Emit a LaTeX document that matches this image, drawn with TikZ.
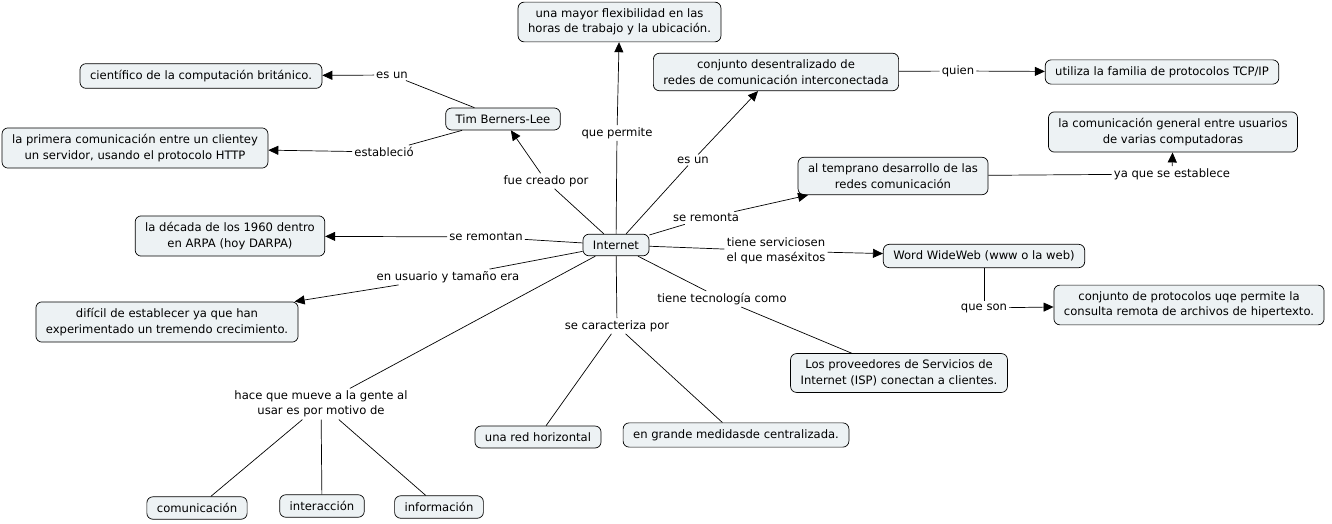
\documentclass[tikz,border=0pt]{standalone}
\usepackage{fontspec}
\setmainfont{DejaVu Sans}
\usetikzlibrary{arrows.meta}
\definecolor{cfill}{RGB}{237,242,244}
\tikzset{
  concept/.style={draw=black, line width=0.7pt, fill=cfill, rounded corners=6pt, align=center,
    inner xsep=10pt, inner ysep=6.5pt, font=\fontsize{11.6}{15.5}\selectfont},
  lbl/.style={align=center, inner sep=2pt, font=\fontsize{11.6}{15.5}\selectfont},
  conn/.style={line width=0.7pt},
  arr/.style={line width=0.7pt, -{Triangle[length=10pt,width=9pt]}},
}
\begin{document}
\begin{tikzpicture}[x=1pt,y=-1pt]
\useasboundingbox (0,0) rectangle (1332,524);
% concepts
\node[concept] (flex) at (619.5,22) {una mayor flexibilidad en las\\horas de trabajo y la ubicación.};
\node[concept] (conj) at (776,72) {conjunto desentralizado de\\redes de comunicación interconectada};
\node[concept] (tcp) at (1162,72) {utiliza la familia de protocolos TCP/IP};
\node[concept] (cient) at (201,76) {científico de la computación británico.};
\node[concept] (tim) at (503,119) {Tim Berners-Lee};
\node[concept] (prim) at (135,148) {la primera comunicación entre un clientey\\un servidor, usando el protocolo HTTP};
\node[concept] (gen) at (1173,132) {la comunicación general entre usuarios\\de varias computadoras};
\node[concept] (temp) at (893,176) {al temprano desarrollo de las\\redes comunicación};
\node[concept] (dec) at (230,236) {la década de los 1960 dentro\\en ARPA (hoy DARPA)};
\node[concept] (int) at (616,245) {Internet};
\node[concept] (www) at (984,256) {Word WideWeb (www o la web)};
\node[concept] (dif) at (167,322) {difícil de establecer ya que han\\experimentado un tremendo crecimiento.};
\node[concept] (prot) at (1189,305) {conjunto de protocolos uqe permite la\\consulta remota de archivos de hipertexto.};
\node[concept] (isp) at (899,373) {Los proveedores de Servicios de\\Internet (ISP) conectan a clientes.};
\node[concept] (red) at (538,437) {una red horizontal};
\node[concept] (cen) at (736,435) {en grande medidasde centralizada.};
\node[concept] (com) at (197,508) {comunicación};
\node[concept] (inter) at (322,506) {interacción};
\node[concept] (info) at (439,507) {información};
% linking phrases
\node[lbl] (l1) at (392,75) {es un};
\node[lbl] (l2) at (384,152) {estableció};
\node[lbl] (l3) at (546,181) {fue creado por};
\node[lbl] (l4) at (617,133) {que permite};
\node[lbl] (l5) at (693,160) {es un};
\node[lbl] (l6) at (958,71) {quien};
\node[lbl] (l7) at (706,218) {se remonta};
\node[lbl] (l8) at (1172,174) {ya que se establece};
\node[lbl] (l9) at (486,237) {se remontan};
\node[lbl] (l10) at (448,277) {en usuario y tamaño era};
\node[lbl] (l11) at (776,251) {tiene serviciosen\\el que maséxitos};
\node[lbl] (l12) at (984,308) {que son};
\node[lbl] (l13) at (722,299) {tiene tecnología como};
\node[lbl] (l14) at (617,326) {se caracteriza por};
\node[lbl] (l15) at (321,404) {hace que mueve a la gente al\\usar es por motivo de};
% connectors
\draw[conn] (tim) -- (l1); \draw[arr] (l1) -- (cient);
\draw[conn] (tim) -- (l2); \draw[arr] (l2) -- (prim);
\draw[conn] (int) -- (l3); \draw[arr] (l3) -- (tim);
\draw[conn] (int) -- (l4); \draw[arr] (l4) -- (flex);
\draw[conn] (int) -- (l5); \draw[arr] (l5) -- (conj);
\draw[conn] (conj) -- (l6); \draw[arr] (l6) -- (tcp);
\draw[conn] (int) -- (l7); \draw[arr] (l7) -- (temp);
\draw[conn] (temp) -- (l8); \draw[arr] (l8) -- (gen);
\draw[conn] (int) -- (l9); \draw[arr] (l9) -- (dec);
\draw[conn] (int) -- (l10); \draw[arr] (l10) -- (dif);
\draw[conn] (int) -- (l11); \draw[arr] (l11) -- (www);
\draw[conn] (www) -- (l12); \draw[arr] (l12) -- (prot);
\draw[conn] (int) -- (l13); \draw[conn] (l13) -- (isp);
\draw[conn] (int) -- (l14); \draw[conn] (l14) -- (red); \draw[conn] (l14) -- (cen);
\draw[conn] (int) -- (l15); \draw[conn] (l15) -- (com); \draw[conn] (l15) -- (inter); \draw[conn] (l15) -- (info);
\end{tikzpicture}
\end{document}
